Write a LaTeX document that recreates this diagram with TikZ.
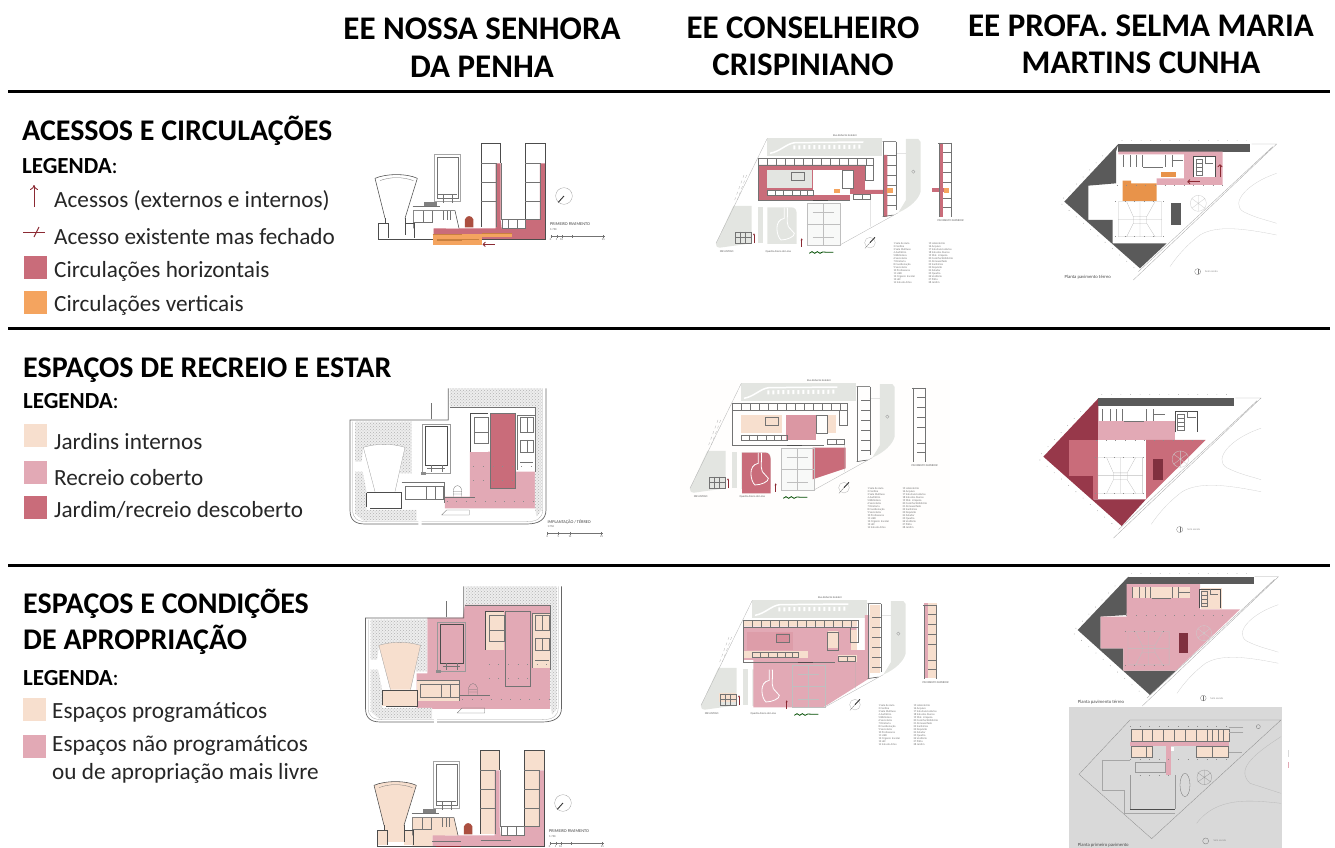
\documentclass[tikz,border=0pt]{standalone}
\usepackage{fontspec}
\setmainfont{Carlito}
\setsansfont{Carlito}
\usetikzlibrary{arrows.meta,patterns,positioning}

\definecolor{circhoriz}{HTML}{C96C7A}
\definecolor{circvert}{HTML}{F4A45F}
\definecolor{selmaorange}{HTML}{E8934A}
\definecolor{stripe}{HTML}{C9803F}
\definecolor{peach}{HTML}{F7DFCE}
\definecolor{rose}{HTML}{E2A9B5}
\definecolor{wine}{HTML}{97384A}
\definecolor{accessred}{HTML}{8B2A33}
\definecolor{sitegrey}{HTML}{E3E5E1}
\definecolor{slab}{HTML}{5A5A5A}

% upper floor of the first school
\newcommand{\penhafirst}[2]{
	\fill[#1] (423,70) rectangle (467,320);
	\fill[#1] (467,70) rectangle (482,130);
	\fill[#1] (556,70) rectangle (600,298);
	\fill[#1] (600,70) rectangle (615,130);
	\fill[#2] (280,307) -- (318,307) -- (318,325) -- (467,325) -- (467,130) -- (482,130) -- (482,300) -- (485,325) -- (556,325) -- (556,298) -- (600,298) -- (600,130) -- (615,130) -- (615,358) -- (280,358) -- cycle;
	\fill[#1] (105,175) .. controls (140,160) and (200,160) .. (232,175) -- (195,295) -- (195,345) -- (135,345) -- (135,295) -- cycle;
	\fill[#1] (115,310) rectangle (145,355);
	\fill[#1] (195,310) rectangle (222,355);
	\fill[#1] (220,272) -- (345,272) -- (357,325) -- (280,325) -- (280,358) -- (220,358) -- cycle;
	\fill[accessred!70!circvert] (375,322) -- (375,298) .. controls (380,285) and (395,285) .. (400,298) -- (400,322) -- cycle;
	\draw[wall] (423,320) -- (423,70) -- (482,70) -- (482,130);
	\draw[wall] (556,298) -- (556,70) -- (615,70) -- (615,358) -- (115,358);
	\draw[planline] (482,130) -- (482,300) (467,130) -- (467,320) (423,130) -- (467,130) (423,185) -- (467,185) (423,243) -- (467,243);
	\draw[planline] (600,130) -- (600,298) -- (556,298) (556,130) -- (600,130) (556,185) -- (600,185) (556,243) -- (600,243);
	\draw[planline] (485,298) rectangle (556,325) (505,298) -- (505,325) (530,298) -- (530,325);
	\draw[planline,draw=black!35,line width=.6pt] (282,103) rectangle (362,245);
	\draw[planline] (290,112) rectangle (355,235);
	\draw[planline] (295,222) -- (350,222) (310,222) -- (310,250) (335,222) -- (335,250);
	\draw[wall] (105,175) .. controls (140,160) and (200,160) .. (232,175) (105,175) -- (135,295) (232,175) -- (195,295);
	\draw[planline] (120,182) .. controls (150,170) and (190,170) .. (220,182);
	\draw[wall] (115,310) -- (115,358) (135,295) -- (135,310) (195,295) -- (195,310) (115,310) -- (145,310) -- (145,355) (195,345) -- (195,310) -- (222,310) -- (222,355);
	\draw[wall] (220,325) -- (220,272) -- (345,272) -- (357,325);
	\draw[planline] (220,305) -- (280,305) (250,272) -- (250,305) (275,272) -- (275,305) (310,272) -- (310,300) (320,272) -- (320,300) (330,272) -- (330,300);
	\draw[planline] (218,258) -- (300,258);
	\fill[black!50] (253,246) rectangle (290,258);
	\draw[planline,draw=black!40] (672,228) circle [radius=25];
	\draw[line width=.9pt,black!80] (655,247) -- (672,228);
	\node (firstname) at (630,311) [planlabel] {PRIMEIRO PAVIMENTO};
	\node (firstscale) at (630,328) [plantiny] {1:750};
	\draw[planline] (632,349) -- (795,349) (632,345) -- (632,353) (650,345) -- (650,353) (665,345) -- (665,353) (695,345) -- (695,353) (790,345) -- (790,353);
	\node (firstzero) at (632,360) [plantiny,anchor=center] {0};
	\node (firstfive) at (650,360) [plantiny,anchor=center] {5};
	\node (firstten) at (665,360) [plantiny,anchor=center] {10};
	\node (firsttw) at (790,360) [plantiny,anchor=center] {25};
}

% ground floor of the first school
\newcommand{\penhaground}[2]{
	\path[planting] (330,55) -- (605,55) -- (605,420) -- (590,440) -- (585,415) -- (585,110) -- (330,110) -- cycle;
	\path[planting] (45,155) -- (215,155) -- (215,310) -- (180,310) -- (195,232) -- (70,232) -- (65,275) -- (45,275) -- cycle;
	\path[planting] (45,305) -- (68,305) -- (80,365) -- (80,420) -- (230,420) -- (230,452) -- (70,452) -- (45,430) -- cycle;
	\draw[sitewall] (325,55) -- (325,150) -- (30,150) -- (30,420) .. controls (30,450) and (45,462) .. (75,462) -- (235,462);
	\draw[sitewall] (245,462) -- (560,462) .. controls (595,462) and (618,450) .. (618,420) -- (618,55);
	\draw[planline,draw=black!35] (38,155) -- (38,420) .. controls (38,445) and (52,455) .. (80,455) -- (235,455);
	\draw[planline,draw=black!35] (245,455) -- (560,455) .. controls (590,455) and (608,445) .. (608,420) -- (608,55);
	\fill[#1] (70,232) .. controls (110,220) and (155,220) .. (195,232) -- (165,365) -- (105,365) -- cycle;
	\fill[#1] (80,368) rectangle (185,415);
	\fill[#2] (185,335) rectangle (312,400);
	\fill[#2] (390,130) rectangle (445,245);
	\fill[#2] (530,135) rectangle (585,300);
	\draw[planline,draw=black!40] (70,232) .. controls (110,220) and (155,220) .. (195,232) -- (165,365) (70,232) -- (105,365);
	\draw[wall] (80,368) -- (185,368) -- (185,415) -- (90,415) (80,368) -- (80,412);
	\draw[planline] (185,335) -- (312,335) -- (312,400) (195,348) rectangle (310,388) (258,348) -- (258,388) (285,348) -- (285,388);
	\draw[planline,draw=black!40] (245,163) rectangle (330,310);
	\draw[wall] (255,170) rectangle (322,285);
	\draw[planline] (272,285) -- (272,305) (305,285) -- (305,305) (262,293) -- (315,293);
	\fill[black!45] (243,305) rectangle (258,315);
	\draw[planline] (340,380) -- (340,358) .. controls (345,343) and (360,343) .. (365,358) -- (365,380) (340,365) -- (365,365) (340,372) -- (365,372);
	\draw[planline] (305,435) -- (320,420) -- (388,420) -- (388,435) -- cycle;
	\draw[planline] (330,110) -- (585,110) -- (585,305);
	\draw[planline] (315,380) -- (405,380);
	\draw[wall] (390,245) -- (390,130) -- (445,130);
	\draw[planline] (402,140) rectangle (445,220) (402,185) -- (445,185);
	\draw[planline] (530,300) -- (530,135) -- (585,135);
	\draw[planline] (540,142) rectangle (580,185) (540,210) rectangle (580,245) (540,275) -- (580,275) (560,142) -- (560,185) (560,210) -- (560,245);
	\draw[planline] (450,128) rectangle (525,355);
	\draw[planline] (272,100) -- (272,148);
	\draw[columns] (400,290) -- (580,290) (400,330) -- (525,330) (320,395) -- (580,395);
}

% grey ground of the second school
\newcommand{\crispsite}{
	\fill[sitegrey] (262,55) -- (605,55) -- (605,108) -- (262,108) -- cycle;
	\fill[sitegrey] (678,57) -- (715,57) -- (722,66) -- (722,215) .. controls (715,240) and (690,262) .. (655,278) -- (678,240) -- cycle;
	\fill[sitegrey] (160,258) -- (215,258) -- (215,370) -- (120,383) .. controls (110,383) and (106,376) .. (108,370) -- cycle;
	\fill[sitegrey] (235,262) rectangle (248,368);
	\fill[sitegrey] (262,262) -- (335,262) .. controls (345,262) and (350,270) .. (350,280) -- (350,372) -- (262,372) -- cycle;
	\fill[sitegrey!25] (380,250) rectangle (480,375);
	\draw[white,line width=1.5pt] (270,100) .. controls (300,95) and (320,70) .. (345,68) -- (550,66);
	\draw[white,line width=4pt,dash pattern=on 2pt off 3pt] (340,82) -- (550,80);
}

% lines of the second school
\newcommand{\crispplan}{
	\draw[planline,draw=black!30] (262,55) -- (108,370) (480,375) -- (655,278) (572,240) -- (572,320) (648,100) -- (678,100);
	\draw[planline,draw=black!30,dashed] (200,165) -- (172,240) (192,165) -- (164,240);
	\draw[white,line width=.8pt] (313,263) -- (313,295) .. controls (280,300) and (290,350) .. (303,360) .. controls (320,360) and (345,350) .. (343,340) -- (325,320) .. controls (318,305) and (325,280) .. (322,263);
	\draw[planline,draw=black!25] (380,250) rectangle (480,375) (430,250) -- (430,375) (380,312) -- (480,312) (398,275) -- (462,275) (398,350) -- (462,350);
	\draw[planline] (235,115) rectangle (578,135) (262,115) -- (262,135) (289,115) -- (289,135) (316,115) -- (316,135) (343,115) -- (343,135) (370,115) -- (370,135) (397,115) -- (397,135) (424,115) -- (424,135) (451,115) -- (451,135) (478,115) -- (478,135) (505,115) -- (505,135) (532,115) -- (532,135) (559,115) -- (559,135);
	\draw[planline] (235,135) -- (235,240) -- (510,240) (262,210) rectangle (400,225) (285,210) -- (285,225) (310,210) -- (310,225) (335,210) -- (335,225) (360,210) -- (360,225) (380,210) -- (380,225);
	\draw[planline] (487,150) rectangle (520,205) (555,135) rectangle (578,180) (520,222) rectangle (570,237) (545,222) -- (545,237);
	\draw[planline] (333,155) rectangle (372,180);
	\draw[wall] (398,242) -- (445,242);
	\draw[wall] (608,65) -- (648,65) (608,290) -- (640,285);
	\draw[planline] (608,65) -- (608,290) (648,65) -- (648,270) (622,105) -- (648,105) (622,135) -- (648,135) (622,165) -- (648,165) (622,195) -- (648,195) (622,225) -- (648,225) (622,255) -- (648,255);
	\draw[planline] (775,68) -- (812,68) (812,68) -- (812,290) (778,68) -- (778,290) (790,95) -- (812,95) (790,125) -- (812,125) (790,155) -- (812,155) (790,185) -- (812,185) (790,235) -- (812,235) (790,262) -- (812,262);
	\draw[planline] (165,335) rectangle (212,370) (165,350) -- (212,350) (180,335) -- (180,370) (195,335) -- (195,370);
	\draw[planline,draw=black!40] (700,155) circle [radius=5];
	\draw[planline,draw=black!30] (570,368) circle [radius=16];
	\draw[line width=.9pt,black!80] (570,368) -- (585,352);
	\draw[planline] (555,385) -- (570,368);
	\draw[accessred,line width=.5pt,-{Stealth[length=2pt,width=2pt]}] (222,370) -- (222,340);
	\draw[accessred,line width=.5pt,-{Stealth[length=2pt,width=2pt]}] (365,380) -- (365,355);
	\draw[black!70!green,line width=.8pt] (388,400) -- (396,395) -- (404,400) -- (412,395) -- (420,400) -- (428,396) -- (445,397) -- (460,397);
	\node (street) at (495,46) [plantiny,anchor=center] {Rua Roberto Scalabri};
	\node (upperfloor) at (812,303) [plantiny,anchor=center] {PAVIMENTO SUPERIOR};
	\node (annex) at (140,396) [plantiny,anchor=center] {MR ANTIGO};
	\node (court) at (295,396) [plantiny,anchor=center] {Quadra Arena de Lona};
	\node (roomsa) at (640,428) [roomlist] {1 Sala de Aula\\2 Cantina\\3 Sala Multiuso\\4 Auditório\\5 Biblioteca\\6 Secretaria\\7 Diretoria\\8 Coordenação\\9 Secretaria\\10 Professores\\11 LIED\\12 Organiz. Escolar\\13 LEF\\14 Sala de Artes};
	\node (roomsb) at (745,428) [roomlist] {15 Laboratório\\16 Arquivo\\17 Sala Funcionários\\18 Sala dos Alunos\\19 Mat. Limpeza\\20 Cozinha/Refeitório\\21 Almoxarifado\\22 Sanitários\\23 Depósito\\24 Zelador\\25 Quadra\\26 Vestiário\\27 Pátio\\28 Jardim};
}

% lines of the third school
\newcommand{\selmaplan}{
	\draw[planline,draw=black!35] (665,72) -- (740,72) -- (310,480) (728,80) -- (325,455);
	\draw[planline,draw=black!18] (740,160) .. controls (650,190) and (600,250) .. (640,275) .. controls (680,295) and (710,300) .. (740,310);
	\draw[planline,draw=black!18] (740,345) .. controls (640,325) and (560,315) .. (510,345) .. controls (470,375) and (440,410) .. (420,440);
	\draw[columns,draw=black!40] (275,62) -- (650,62) (95,252) -- (322,452) (100,235) -- (225,100);
	\draw[planline] (278,105) -- (278,140) (300,105) -- (300,140) (318,105) -- (318,140) (335,105) -- (335,140) (340,140) -- (400,140) (405,105) -- (405,140) (425,120) -- (460,120) (425,105) -- (425,140);
	\draw[wall] (490,172) -- (490,110) -- (555,110) -- (555,172);
	\draw[planline] (497,118) rectangle (515,165) (497,130) -- (515,130) (497,142) -- (515,142) (497,154) -- (515,154) (525,110) -- (525,128) -- (550,128);
	\draw[columns] (260,195) -- (580,195);
	\draw[planline,draw=black!25] (265,245) rectangle (395,350) (290,245) -- (310,290) (375,245) -- (350,290) (290,350) -- (310,310) (375,350) -- (350,310) (265,298) -- (395,298) (330,245) -- (330,350) (310,290) rectangle (350,310);
	\draw[columns] (255,245) -- (400,245) (255,350) -- (400,350);
	\draw[planline,draw=black!20] (505,250) circle [radius=24] (485,235) -- (525,265) (525,235) -- (485,265) (505,226) -- (505,274);
	\draw[planline,draw=black!50] (503,455) circle [radius=9];
	\draw[planline] (503,447) -- (503,463);
	\node (northmark) at (525,455) [plantiny,text=black!45] {Sem escala};
}

\begin{document}
\begin{tikzpicture}
[
                     x =  1pt,
                     y = -1pt,
               title/.style = { anchor=base, inner sep=0pt, font=\fontsize{33}{34}\selectfont\bfseries },
             section/.style = { anchor=base west, inner sep=0pt, font=\fontsize{30}{32}\selectfont\bfseries },
              legend/.style = { anchor=base west, inner sep=0pt, font=\fontsize{23.2}{24}\selectfont, text=black!85 },
             caption/.style = { anchor=base west, inner sep=0pt, font=\fontsize{23}{24}\selectfont },
              swatch/.style = { draw=none, anchor=north west, inner sep=0pt, minimum size=23pt },
                rule/.style = { line width=3pt },
              access/.style = { accessred, line width=.9pt },
          plancoords/.style = { x=.3333pt, y=-.3333pt },
            planline/.style = { draw=black!55, line width=.3pt },
                wall/.style = { draw=black!70, line width=.55pt },
            sitewall/.style = { draw=black!60, line width=.7pt },
             columns/.style = { draw=black!45, line width=.6pt, dash pattern=on .6pt off 9pt },
            planting/.style = { preaction={fill=black!7}, pattern=crosshatch dots, pattern color=black!30 },
           planlabel/.style = { anchor=west, inner sep=0pt, text=black!75, font=\fontsize{4.3}{5}\selectfont },
            plantiny/.style = { anchor=west, inner sep=0pt, text=black!65, font=\fontsize{2.8}{3}\selectfont },
            roomlist/.style = { anchor=west, inner sep=0pt, align=left, text=black!55, font=\fontsize{2.8}{3}\selectfont },
           planwords/.style = { anchor=west, inner sep=0pt, text=black!70, font=\fontsize{4.7}{5}\selectfont }
]

	\useasboundingbox (0,0) rectangle (1335,848);

	% column titles
	\node (penhaa) at (482,40) [title] {EE NOSSA SENHORA};
	\node (penhab) at (482,77.5) [title] {DA PENHA};
	\node (crispa) at (803,38.5) [title] {EE CONSELHEIRO};
	\node (crispb) at (803,75.5) [title] {CRISPINIANO};
	\node (selmaa) at (1141,36.5) [title] {EE PROFA. SELMA MARIA};
	\node (selmab) at (1141,73.5) [title] {MARTINS CUNHA};

	\coordinate (ruleal) at (8,92);   \coordinate (ruleam) at (1330,92);
	\coordinate (rulebl) at (8,328);  \coordinate (rulebm) at (1330,328);
	\coordinate (rulecl) at (8,565);  \coordinate (rulecm) at (1330,565);
	\draw[rule] (ruleal) -- (ruleam);
	\draw[rule] (rulebl) -- (rulebm);
	\draw[rule] (rulecl) -- (rulecm);

	% first row, legend
	\node (seca) at (22,140.5) [section] {ACESSOS E CIRCULAÇÕES};
	\node (lega) at (22,173) [caption] {\textbf{LEGENDA}:};
	\coordinate (upa) at (34,207);    \coordinate (upb) at (34,185);
	\draw[access,-{To[length=5pt,width=8pt]}] (upa) -- (upb);
	\node (acca) at (54,207) [legend] {Acessos (externos e internos)};
	\coordinate (shuta) at (23,232);  \coordinate (shutb) at (45,232);
	\coordinate (shutc) at (34,237);  \coordinate (shutd) at (39,227);
	\draw[access] (shuta) -- (shutb);
	\draw[access] (shutc) -- (shutd);
	\node (accb) at (54,244) [legend] {Acesso existente mas fechado};
	\node (swa) at (24,256) [swatch,fill=circhoriz] {};
	\node (acc) at (54,277) [legend] {Circulações horizontais};
	\node (swb) at (24,291) [swatch,fill=circvert] {};
	\node (acd) at (54,311) [legend] {Circulações verticais};

	% second row, legend
	\node (secb) at (23,377) [section] {ESPAÇOS DE RECREIO E ESTAR};
	\node (legb) at (23,408) [caption] {\textbf{LEGENDA}:};
	\node (swc) at (24,424) [swatch,fill=peach] {};
	\node (rea) at (54,449) [legend] {Jardins internos};
	\node (swd) at (24,461) [swatch,fill=rose] {};
	\node (reb) at (54,485) [legend] {Recreio coberto};
	\node (swe) at (24,496) [swatch,fill=circhoriz] {};
	\node (rec) at (54,517) [legend] {Jardim/recreio descoberto};

	% third row, legend
	\node (secc) at (23,613) [section] {ESPAÇOS E CONDIÇÕES};
	\node (secd) at (23,649) [section] {DE APROPRIAÇÃO};
	\node (legc) at (23,685) [caption] {\textbf{LEGENDA}:};
	\node (swf) at (23,698) [swatch,fill=peach] {};
	\node (apa) at (52,718) [legend] {Espaços programáticos};
	\node (swg) at (23,735) [swatch,fill=rose] {};
	\node (apb) at (52,751) [legend] {Espaços não programáticos};
	\node (apc) at (52,779) [legend] {ou de apropriação mais livre};

	% first school, first row
	\begin{scope}[shift={(340,120)},plancoords]
		\penhafirst{white}{circhoriz}
		\fill[circvert] (278,343) rectangle (425,375);
		\fill[circvert] (425,340) rectangle (515,352);
		\draw[planline,draw=stripe] (290,358) -- (418,358) (278,343) -- (365,343) (425,340) -- (515,340);
		\draw[wall,draw=stripe] (290,360) -- (365,360);
		\coordinate (backa) at (465,373);  \coordinate (backb) at (428,373);
		\draw[access,-{To[length=3pt,width=5pt]}] (backa) -- (backb);
	\end{scope}

	% first school, second row
	\begin{scope}[shift={(340,370)},plancoords]
		\fill[rose] (390,245) -- (450,245) -- (450,355) -- (525,355) -- (525,305) -- (585,305) -- (585,415) -- (315,415) -- (315,380) -- (390,380) -- cycle;
		\fill[circhoriz] (450,128) rectangle (525,355);
		\penhaground{white}{white}
		\node (grounda) at (622,456) [planlabel] {IMPLANTAÇÃO / TÉRREO};
		\node (groundb) at (622,471) [plantiny] {1:750};
		\draw[planline] (622,490) -- (790,490) (622,486) -- (622,494) (655,486) -- (655,494) (690,486) -- (690,494) (785,486) -- (785,494);
		\node (groundc) at (622,501) [plantiny,anchor=center] {0};
		\node (groundd) at (655,501) [plantiny,anchor=center] {5};
		\node (grounde) at (690,501) [plantiny,anchor=center] {10};
		\node (groundf) at (785,501) [plantiny,anchor=center] {25};
	\end{scope}

	% first school, third row
	\begin{scope}[shift={(350,575)},plancoords]
		\fill[rose] (232,128) -- (338,128) -- (345,88) -- (600,88) -- (600,402) -- (200,402) -- (200,295) -- (232,295) -- cycle;
	\end{scope}
	\begin{scope}[shift={(355.5,568)},plancoords]
		\penhaground{peach}{peach}
	\end{scope}
	\begin{scope}[shift={(339,727)},plancoords]
		\penhafirst{peach}{rose}
		\draw[wall,draw=accessred] (290,358) -- (365,358);
		\draw[planline] (280,343) -- (365,343) (425,340) -- (515,340);
	\end{scope}

	% second school, first row
	\begin{scope}[shift={(680,120)},plancoords]
		\crispsite
		\fill[circhoriz] (235,135) -- (555,135) -- (555,210) -- (610,210) -- (610,105) -- (622,105) -- (622,290) -- (610,290) -- (610,222) -- (510,222) -- (510,240) -- (235,240) -- cycle;
		\fill[sitegrey] (262,150) rectangle (395,205);
		\fill[white] (400,150) rectangle (485,205);
		\fill[white] (400,205) rectangle (510,225);
		\fill[white] (487,150) rectangle (520,205);
		\fill[white] (262,210) rectangle (400,225);
		\fill[circhoriz] (778,68) rectangle (790,290);
		\fill[circhoriz] (755,205) rectangle (805,217);
		\fill[circvert] (792,205) rectangle (808,220);
		\fill[circvert] (622,205) rectangle (640,220);
		\fill[circvert] (462,208) rectangle (480,220);
		\crispplan
	\end{scope}

	% second school, second row
	\fill[white!96!peach] (680,380) rectangle (950,540);
	\begin{scope}[shift={(654,365)},plancoords]
		\crispsite
		\fill[peach] (260,150) rectangle (383,205);
		\fill[rose!70!circhoriz] (396,150) rectangle (486,225);
		\fill[peach] (523,150) rectangle (546,205);
		\fill[circhoriz] (264,263) -- (335,263) .. controls (345,263) and (350,272) .. (350,285) -- (350,385) -- (264,385) -- cycle;
		\fill[circhoriz] (476,248) -- (575,248) -- (575,310) -- (476,343) -- cycle;
		\crispplan
	\end{scope}

	% second school, third row
	\begin{scope}[shift={(665,582)},plancoords]
		\crispsite
		\fill[rose] (235,134) -- (575,134) -- (575,204) -- (600,204) -- (600,99) -- (613,99) -- (613,289) -- (475,376) -- (265,376) -- (265,234) -- (235,234) -- cycle;
		\fill[rose!80!circhoriz] (245,149) rectangle (385,204);
		\fill[rose!55!circhoriz] (333,154) rectangle (375,179);
		\fill[peach] (235,114) rectangle (575,132);
		\fill[peach] (235,206) rectangle (430,229);
		\fill[peach] (490,147) rectangle (520,199);
		\fill[peach] (558,144) rectangle (575,204);
		\fill[peach] (520,219) rectangle (575,239);
		\fill[peach] (615,69) rectangle (645,274);
		\fill[peach] (163,334) rectangle (213,359);
		\fill[rose] (777,64) rectangle (790,289);
		\fill[peach] (790,64) rectangle (817,289);
		\crispplan
	\end{scope}

	% third school, first row
	\begin{scope}[shift={(1030,120)},plancoords]
		\fill[slab] (265,72) -- (258,95) -- (258,190) -- (175,197) -- (175,300) -- (248,300) -- (248,370) -- (410,370) -- (330,445) -- (103,245) -- cycle;
		\fill[slab] (265,72) rectangle (660,95);
		\fill[rose] (265,95) -- (578,95) -- (578,195) -- (380,195) -- (380,175) -- (462,175) -- (462,103) -- (265,103) -- cycle;
		\fill[white] (490,110) rectangle (555,172);
		\fill[selmaorange] (278,190) -- (278,182) -- (303,182) -- (303,190) -- (380,190) -- (380,243) -- (278,243) -- cycle;
		\fill[selmaorange] (392,157) rectangle (438,172);
		\fill[slab] (423,250) rectangle (452,315);
		\selmaplan
		\coordinate (insa) at (510,185);  \coordinate (insb) at (472,185);
		\coordinate (insc) at (570,172);  \coordinate (insd) at (570,133);
		\draw[access,-{To[length=3pt,width=5pt]}] (insa) -- (insb);
		\draw[access,-{To[length=3pt,width=5pt]}] (insc) -- (insd);
		\node (groundname) at (103,472) [planwords] {Planta pavimento térreo};
	\end{scope}

	% third school, second row
	\begin{scope}[shift={(1030,380)},plancoords]
		\fill[wine] (205,55) -- (205,180) -- (117,180) -- (117,287) -- (190,287) -- (190,358) -- (348,358) -- (275,438) -- (40,230) -- cycle;
		\fill[circhoriz] (117,180) rectangle (205,287);
		\fill[circhoriz] (190,287) rectangle (205,358);
		\fill[rose] (205,122) rectangle (435,180);
		\fill[circhoriz] (348,180) -- (527,180) -- (348,358) -- cycle;
		\fill[wine!85!black] (368,237) rectangle (400,300);
		\fill[slab] (205,55) rectangle (612,78);
	\end{scope}
	\begin{scope}[shift={(1007,373.3)},x=.3433pt,y=-.3433pt]
		\selmaplan
	\end{scope}

	% third school, third row
	\begin{scope}[shift={(1050,570)},plancoords]
		\fill[slab] (235,20) -- (230,135) -- (152,140) -- (152,235) -- (220,235) -- (220,302) -- (378,302) -- (300,375) -- (83,180) -- cycle;
		\fill[slab] (235,20) rectangle (612,42);
		\fill[rose] (230,42) -- (450,42) -- (450,118) -- (570,118) -- (378,302) -- (220,302) -- (220,235) -- (152,235) -- (152,140) -- (230,140) -- cycle;
		\fill[peach] (250,50) rectangle (420,85);
		\fill[peach] (452,55) rectangle (515,118);
		\fill[wine!85!black] (388,190) rectangle (415,248);
	\end{scope}
	\begin{scope}[shift={(1044,554)},x=.3167pt,y=-.3167pt]
		\selmaplan
	\end{scope}
	\begin{scope}[shift={(1050,570)},plancoords]
		\node (groundnamec) at (83,397) [planwords] {Planta pavimento térreo};
		\fill[black!15] (58,412) rectangle (695,834);
		\draw[planline,draw=black!45] (87,613) -- (240,450) -- (693,450) -- (305,806) -- cycle;
		\draw[planline,draw=black!35] (155,570) -- (240,570) (155,570) -- (155,660) -- (222,660) -- (222,730) -- (375,730);
		\draw[planline,draw=black!28] (693,500) .. controls (600,560) and (560,600) .. (600,640) -- (693,670);
		\draw[planline,draw=black!28] (693,700) .. controls (600,690) and (500,680) .. (440,760);
		\fill[peach] (242,478) rectangle (537,512);
		\fill[rose] (240,515) rectangle (537,528);
		\fill[rose] (348,528) rectangle (362,615);
		\fill[peach] (242,528) rectangle (305,560);
		\fill[peach] (437,528) rectangle (535,560);
		\fill[white] (362,532) rectangle (372,543);
		\draw[planline] (242,478) rectangle (537,512) (275,478) -- (275,512) (305,478) -- (305,512) (338,478) -- (338,512) (372,478) -- (372,512) (405,478) -- (405,512) (437,478) -- (437,512) (470,478) -- (470,512) (487,478) -- (487,512) (503,478) -- (503,512) (520,478) -- (520,512);
		\draw[planline] (242,528) rectangle (305,560) (437,528) rectangle (535,560) (288,528) -- (288,560) (487,528) -- (487,560);
		\draw[columns] (240,470) -- (537,470) (240,568) -- (537,568) (240,615) -- (375,615);
		\draw[planline,draw=black!40] (240,615) -- (240,718) (375,615) -- (375,718) (255,575) rectangle (345,605);
		\draw[wall] (240,718) -- (375,718);
		\draw[planline] (405,645) ellipse [x radius=15,y radius=35];
		\draw[planline,draw=black!40] (463,622) circle [radius=22] (443,608) -- (483,636) (483,608) -- (443,636) (463,600) -- (463,644);
		\draw[planline] (625,470) circle [radius=6];
		\draw[planline,draw=black!35] (580,470) -- (537,470) (580,485) -- (537,485) (537,545) -- (575,545);
		\fill[rose] (713,575) rectangle (716,595);
		\fill[black!15] (713,540) rectangle (716,560);
		\draw[planline] (467,813) circle [radius=9];
		\node (northmarkb) at (490,813) [plantiny,text=black!45] {Sem escala};
		\node (uppername) at (83,825) [planwords] {Planta primeiro pavimento};
	\end{scope}

\end{tikzpicture}
\end{document}
